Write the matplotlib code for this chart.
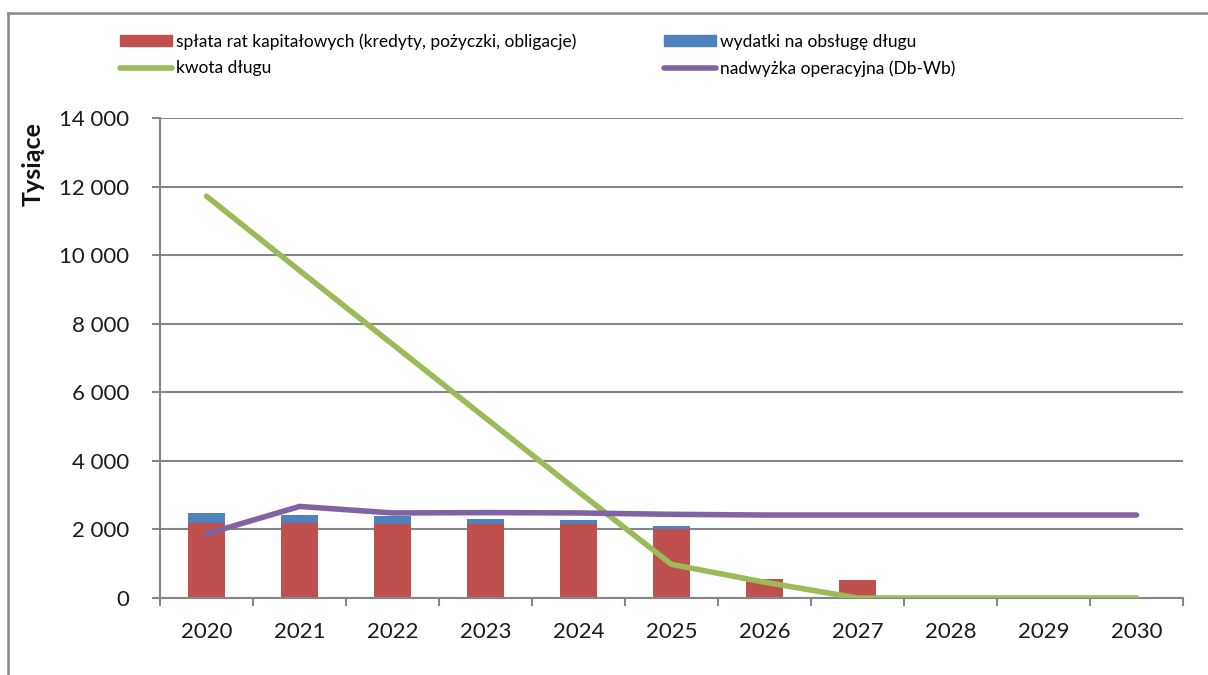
import numpy as np
import matplotlib
matplotlib.use("Agg")
import matplotlib.pyplot as plt
from matplotlib.lines import Line2D
from matplotlib.ticker import FuncFormatter

plt.rcParams['font.family'] = ['Lato', 'DejaVu Sans']

# Data (tys. zł)
years = ["2020", "2021", "2022", "2023", "2024", "2025", "2026", "2027", "2028", "2029", "2030"]
splata_rat = [2200, 2200, 2160, 2160, 2160, 2000, 540, 510, 0, 0, 0]
obsluga_dlugu = [290, 225, 235, 145, 115, 88, 12, 0, 0, 0, 0]
kwota_dlugu = [11720, 9550, 7400, 5250, 3100, 980, 460, 0, 0, 0, 0]
nadwyzka = [1870, 2670, 2480, 2490, 2480, 2440, 2420, 2420, 2420, 2420, 2420]

red = "#C0504D"
blue = "#4F81BD"
green = "#9BBB59"
purple = "#8064A2"
grid_col = "#868686"

fig = plt.figure(figsize=(12.08, 6.75), dpi=100)
ax = fig.add_axes([0.1325, 0.1141, 0.8468, 0.7111])

x = np.arange(len(years))
ax.bar(x, splata_rat, width=0.4, color=red, zorder=2)
ax.bar(x, obsluga_dlugu, width=0.4, bottom=splata_rat, color=blue, zorder=2)
ax.plot(x, kwota_dlugu, color=green, lw=4, solid_capstyle="round", solid_joinstyle="round", zorder=3)
ax.plot(x, nadwyzka, color=purple, lw=4, solid_capstyle="round", solid_joinstyle="round", zorder=4)

ax.set_xlim(-0.5, len(years) - 0.5)
ax.set_ylim(0, 14000)
ax.set_yticks(np.arange(0, 14001, 2000))
ax.yaxis.set_major_formatter(FuncFormatter(lambda v, p: "{:,.0f}".format(v).replace(",", " ")))
ax.yaxis.grid(True, color=grid_col, lw=1.5, zorder=0)
ax.set_axisbelow(True)

# ticks between categories, labels in the middle
ax.set_xticks(np.arange(-0.5, len(years), 1.0))
ax.set_xticklabels([])
ax.set_xticks(x, minor=True)
ax.set_xticklabels(years, minor=True)
ax.tick_params(axis="x", which="minor", length=0, pad=17, labelsize=16, labelcolor="#1a1a1a")
ax.tick_params(axis="x", which="major", length=6, width=1.5, color=grid_col, direction="out")
ax.tick_params(axis="y", length=6, width=1.5, color=grid_col, direction="out", pad=16,
               labelsize=16, labelcolor="#1a1a1a")

for s in ["top", "right"]:
    ax.spines[s].set_visible(False)
for s in ["left", "bottom"]:
    ax.spines[s].set_color(grid_col)
    ax.spines[s].set_linewidth(1.5)

fig.text(33 / 1208, 1 - 164 / 675, "Tysiące", rotation=90, ha="center", va="center",
         fontsize=18, fontweight="bold", color="#111111")

# Legend
handles = [
    plt.Rectangle((0, 0), 1, 1, color=red),
    Line2D([], [], color=green, lw=4, solid_capstyle="round"),
    plt.Rectangle((0, 0), 1, 1, color=blue),
    Line2D([], [], color=purple, lw=4, solid_capstyle="round"),
]
labels = [
    "spłata rat kapitałowych (kredyty, pożyczki, obligacje)",
    "kwota długu",
    "wydatki na obsługę długu",
    "nadwyżka operacyjna (Db-Wb)",
]
fig.legend(handles, labels, ncol=2, loc="upper left", bbox_to_anchor=(120 / 1208, 1 - 33 / 675),
           frameon=False, fontsize=12.5, handlelength=3.0, handleheight=0.6, handletextpad=0.25,
           columnspacing=5.0, labelspacing=0.62, borderpad=0, borderaxespad=0)

# outer frame
fig.add_artist(Line2D([8 / 1208, 8 / 1208], [0, 1 - 13 / 675], color="#888888", lw=1.8))
fig.add_artist(Line2D([8 / 1208, 1], [1 - 13 / 675, 1 - 13 / 675], color="#888888", lw=1.8))

fig.savefig("out.png", dpi=100)
